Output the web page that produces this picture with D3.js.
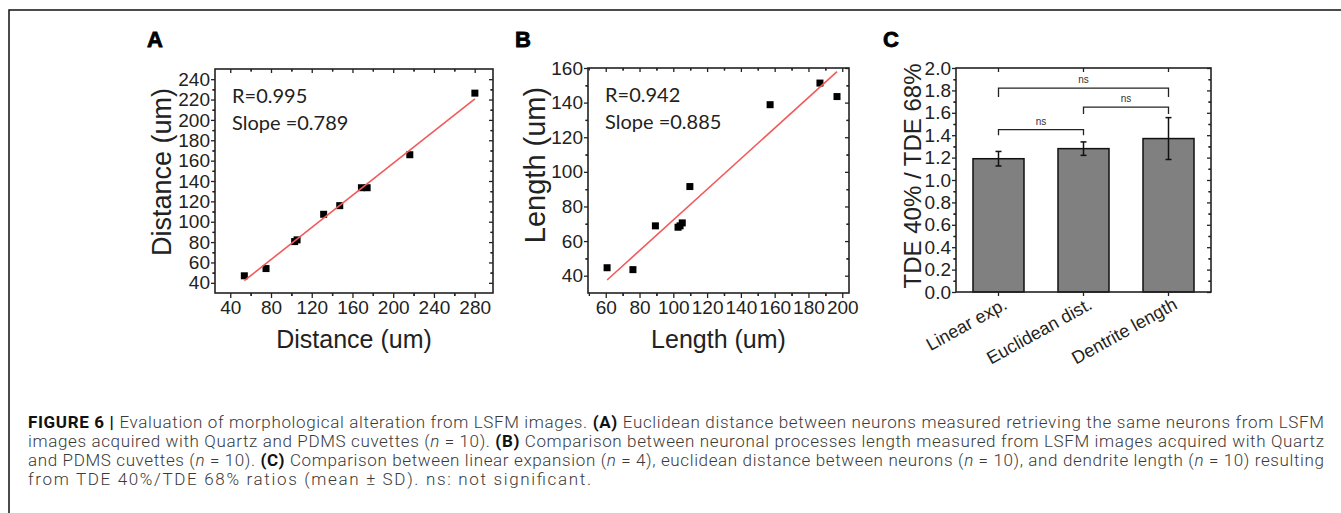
<!DOCTYPE html>
<html>
<head>
<meta charset="utf-8">
<script src="https://cdn.jsdelivr.net/npm/d3@7"></script>
<style>
  body { margin: 0; background: #fff; }
  svg { display: block; }
  .tick text { font-family: "Liberation Sans", Arial, sans-serif; fill: #222; }
</style>
</head>
<body>
<svg width="1341" height="513"></svg>
<script>
// panel A: distances (Quartz vs PDMS)
var distX = [53.8, 75.1, 103.2, 105.6, 131.7, 147.5, 168.8, 174.4, 216.3, 280.2];
var distY = [46.9, 54.0, 80.5, 82.2, 107.3, 115.8, 133.4, 133.4, 165.8, 226.3];
var fitA = { slope: 0.789, intercept: -0.3 };
var statsA = ["R=0.995", "Slope =0.789"];

// panel B: process lengths
var lenX = [60.8, 76.1, 89.4, 102.8, 104.0, 105.3, 109.8, 157.3, 186.8, 196.9];
var lenY = [44.6, 43.5, 68.8, 68.0, 68.8, 70.5, 91.5, 138.8, 151.3, 143.5];
var fitB = { slope: 0.885, intercept: -16.3 };
var statsB = ["R=0.942", "Slope =0.885"];

// panel C: ratio bars
var groups = ["Linear exp.", "Euclidean dist.", "Dentrite length"];
var ratioMean = [1.19, 1.28, 1.37];
var ratioSD = [0.065, 0.06, 0.187];
var brackets = [
  { from: 0, to: 1, top: 1.45, leg: 1.40, label: "ns" },
  { from: 1, to: 2, top: 1.65, leg: 1.59, label: "ns" },
  { from: 0, to: 2, top: 1.82, leg: 1.74, label: "ns" }
];

var ticksAx = [40, 80, 120, 160, 200, 240, 280];
var ticksAy = [40, 60, 80, 100, 120, 140, 160, 180, 200, 220, 240];
var ticksBx = [60, 80, 100, 120, 140, 160, 180, 200];
var ticksBy = [40, 60, 80, 100, 120, 140, 160];
var ticksCy = [0, 0.2, 0.4, 0.6, 0.8, 1.0, 1.2, 1.4, 1.6, 1.8, 2.0];

var captionLines = [
  [["b", "FIGURE 6 | "], ["", "Evaluation of morphological alteration from LSFM images. "], ["b", "(A)"], ["", " Euclidean distance between neurons measured retrieving the same neurons from LSFM"]],
  [["", "images acquired with Quartz and PDMS cuvettes ("], ["i", "n"], ["", " = 10). "], ["b", "(B)"], ["", " Comparison between neuronal processes length measured from LSFM images acquired with Quartz"]],
  [["", "and PDMS cuvettes ("], ["i", "n"], ["", " = 10). "], ["b", "(C)"], ["", " Comparison between linear expansion ("], ["i", "n"], ["", " = 4), euclidean distance between neurons ("], ["i", "n"], ["", " = 10), and dendrite length ("], ["i", "n"], ["", " = 10) resulting"]],
  [["", "from TDE 40%/TDE 68% ratios (mean \u00b1 SD). ns: not significant."]]
];
var captionWidths = [1296, 1296, 1296, 563];

var svg = d3.select("svg");
var font = '"Liberation Sans", Arial, sans-serif';

// figure border
svg.append("path")
  .attr("d", "M9,513 V10 H1341")
  .attr("fill", "none").attr("stroke", "#111").attr("stroke-width", 1.5);

function minors(majors, step) {
  var out = [];
  majors.forEach(function(m) { out.push(m + step); out.push(m - step); });
  return out;
}

function drawFrame(g, x, y, xt, yt, xstep, ystep, labelSize) {
  var x0 = x.range()[0], x1 = x.range()[1], y0 = y.range()[0], y1 = y.range()[1];
  var xMin = minors(xt, xstep).filter(function(v) { return v > x.domain()[0] && v < x.domain()[1]; });
  var yMin = minors(yt, ystep).filter(function(v) { return v > y.domain()[0] && v < y.domain()[1]; });

  g.append("g").attr("transform", "translate(0," + y0 + ")")
    .call(d3.axisBottom(x).tickValues(xt).tickSize(5).tickPadding(3))
    .call(function(a) { a.select(".domain").remove(); a.selectAll("text").style("font-size", labelSize + "px"); });
  g.append("g").attr("transform", "translate(0," + y0 + ")")
    .call(d3.axisBottom(x).tickValues(xMin).tickSize(3).tickFormat(""))
    .call(function(a) { a.select(".domain").remove(); });
  g.append("g").attr("transform", "translate(0," + y1 + ")")
    .call(d3.axisTop(x).tickValues(xt).tickSize(-4).tickFormat(""))
    .call(function(a) { a.select(".domain").remove(); });
  g.append("g").attr("transform", "translate(0," + y1 + ")")
    .call(d3.axisTop(x).tickValues(xMin).tickSize(-2.5).tickFormat(""))
    .call(function(a) { a.select(".domain").remove(); });

  g.append("g").attr("transform", "translate(" + x0 + ",0)")
    .call(d3.axisLeft(y).tickValues(yt).tickSize(4).tickPadding(1))
    .call(function(a) { a.select(".domain").remove(); a.selectAll("text").style("font-size", labelSize + "px"); });
  g.append("g").attr("transform", "translate(" + x0 + ",0)")
    .call(d3.axisLeft(y).tickValues(yMin).tickSize(2.5).tickFormat(""))
    .call(function(a) { a.select(".domain").remove(); });
  g.append("g").attr("transform", "translate(" + x1 + ",0)")
    .call(d3.axisRight(y).tickValues(yt).tickSize(-4).tickFormat(""))
    .call(function(a) { a.select(".domain").remove(); });
  g.append("g").attr("transform", "translate(" + x1 + ",0)")
    .call(d3.axisRight(y).tickValues(yMin).tickSize(-2.5).tickFormat(""))
    .call(function(a) { a.select(".domain").remove(); });

  g.selectAll(".tick line").attr("stroke", "#222").attr("stroke-width", 1.3);
  g.append("rect")
    .attr("x", x0).attr("y", y1).attr("width", x1 - x0).attr("height", y0 - y1)
    .attr("fill", "none").attr("stroke", "#222").attr("stroke-width", 1.6);
}

function scatterPanel(opt) {
  var g = svg.append("g");
  var x = d3.scaleLinear().domain(opt.xDomain).range([opt.left, opt.right]);
  var y = d3.scaleLinear().domain(opt.yDomain).range([opt.bottom, opt.top]);
  drawFrame(g, x, y, opt.xt, opt.yt, opt.xstep, opt.ystep, 19);

  var pts = opt.xs.map(function(v, i) { return [v, opt.ys[i]]; });
  g.append("g").selectAll("rect").data(pts).enter().append("rect")
    .attr("x", function(d) { return x(d[0]) - 3.5; })
    .attr("y", function(d) { return y(d[1]) - 3.5; })
    .attr("width", 7).attr("height", 7)
    .attr("fill", "#000");

  var ext = d3.extent(opt.xs);
  g.append("line")
    .attr("x1", x(ext[0])).attr("y1", y(opt.fit.slope * ext[0] + opt.fit.intercept))
    .attr("x2", x(ext[1])).attr("y2", y(opt.fit.slope * ext[1] + opt.fit.intercept))
    .attr("stroke", "#f25a5a").attr("stroke-width", 1.6);

  g.selectAll(".stat").data(opt.stats).enter().append("text")
    .attr("x", opt.left + 17).attr("y", function(d, i) { return opt.top + 34 + i * 27; })
    .style("font-family", "Lato, 'Open Sans', sans-serif").style("font-size", "20px").style("fill", "#222")
    .text(function(d) { return d; });

  g.append("text")
    .attr("x", (opt.left + opt.right) / 2).attr("y", 348)
    .attr("text-anchor", "middle")
    .style("font-family", font).style("font-size", "25px").style("fill", "#222")
    .text(opt.xTitle);
  g.append("text")
    .attr("transform", "translate(" + opt.yTitleX + "," + opt.yTitleY + ") rotate(-90)")
    .attr("text-anchor", "middle")
    .style("font-family", font).style("font-size", opt.yTitleSize + "px").style("fill", "#222")
    .text(opt.yTitle);
}

scatterPanel({
  xs: distX, ys: distY, fit: fitA, stats: statsA,
  xDomain: [25, 298], yDomain: [30, 250],
  left: 215, right: 493, top: 69, bottom: 293,
  xt: ticksAx, yt: ticksAy, xstep: 20, ystep: 10,
  xTitle: "Distance (um)", yTitle: "Distance (um)",
  yTitleX: 171, yTitleY: 172, yTitleSize: 27
});

scatterPanel({
  xs: lenX, ys: lenY, fit: fitB, stats: statsB,
  xDomain: [49.5, 204], yDomain: [30, 160],
  left: 588, right: 849, top: 68, bottom: 293,
  xt: ticksBx, yt: ticksBy, xstep: 10, ystep: 10,
  xTitle: "Length (um)", yTitle: "Length (um)",
  yTitleX: 545, yTitleY: 165, yTitleSize: 29
});

// panel C: bar chart
(function() {
  var g = svg.append("g");
  var left = 956, right = 1211, top = 68, bottom = 292;
  var x = d3.scaleBand().domain(groups).range([left, right]).paddingInner(0.4).paddingOuter(0.2);
  var y = d3.scaleLinear().domain([0, 2]).range([bottom, top]);
  var cx = function(i) { return x(groups[i]) + x.bandwidth() / 2; };

  g.append("g").selectAll("rect").data(ratioMean).enter().append("rect")
    .attr("x", function(d, i) { return x(groups[i]); })
    .attr("y", function(d) { return y(d); })
    .attr("width", x.bandwidth())
    .attr("height", function(d) { return y(0) - y(d); })
    .attr("fill", "#808080").attr("stroke", "#111").attr("stroke-width", 1.5);

  var eb = g.append("g").attr("stroke", "#111").attr("stroke-width", 1.5);
  ratioMean.forEach(function(m, i) {
    var c = cx(i), hi = y(m + ratioSD[i]), lo = y(m - ratioSD[i]);
    eb.append("line").attr("x1", c).attr("x2", c).attr("y1", hi).attr("y2", lo);
    eb.append("line").attr("x1", c - 3).attr("x2", c + 3).attr("y1", hi).attr("y2", hi);
    eb.append("line").attr("x1", c - 3).attr("x2", c + 3).attr("y1", lo).attr("y2", lo);
  });

  // frame and ticks
  g.append("g").attr("transform", "translate(0," + bottom + ")")
    .call(d3.axisBottom(x).tickSize(4).tickFormat(""))
    .call(function(a) { a.select(".domain").remove(); });
  g.append("g").attr("transform", "translate(0," + top + ")")
    .call(d3.axisTop(x).tickSize(-4).tickFormat(""))
    .call(function(a) { a.select(".domain").remove(); });
  var yMin = minors(ticksCy, 0.1).filter(function(v) { return v > 0 && v < 2; });
  g.append("g").attr("transform", "translate(" + left + ",0)")
    .call(d3.axisLeft(y).tickValues(ticksCy).tickSize(4).tickPadding(1).tickFormat(d3.format(".1f")))
    .call(function(a) { a.select(".domain").remove(); a.selectAll("text").style("font-size", "19px"); });
  g.append("g").attr("transform", "translate(" + left + ",0)")
    .call(d3.axisLeft(y).tickValues(yMin).tickSize(2.5).tickFormat(""))
    .call(function(a) { a.select(".domain").remove(); });
  g.append("g").attr("transform", "translate(" + right + ",0)")
    .call(d3.axisRight(y).tickValues(ticksCy).tickSize(-4).tickFormat(""))
    .call(function(a) { a.select(".domain").remove(); });
  g.append("g").attr("transform", "translate(" + right + ",0)")
    .call(d3.axisRight(y).tickValues(yMin).tickSize(-2.5).tickFormat(""))
    .call(function(a) { a.select(".domain").remove(); });
  g.selectAll(".tick line").attr("stroke", "#222").attr("stroke-width", 1.3);
  g.append("rect")
    .attr("x", left).attr("y", top).attr("width", right - left).attr("height", bottom - top)
    .attr("fill", "none").attr("stroke", "#222").attr("stroke-width", 1.6);

  // significance brackets
  var br = g.append("g");
  brackets.forEach(function(b) {
    var xa = cx(b.from), xb = cx(b.to);
    br.append("path")
      .attr("d", "M" + xa + "," + y(b.leg) + "V" + y(b.top) + "H" + xb + "V" + y(b.leg))
      .attr("fill", "none").attr("stroke", "#222").attr("stroke-width", 1.3);
    br.append("text")
      .attr("x", (xa + xb) / 2).attr("y", y(b.top) - 5)
      .attr("text-anchor", "middle")
      .style("font-family", font).style("font-size", "10px").style("fill", "#333")
      .text(b.label);
  });

  // category labels
  g.selectAll(".cat").data(groups).enter().append("text")
    .attr("transform", function(d, i) { return "translate(" + (cx(i) + 10) + "," + (bottom + 16) + ") rotate(-29)"; })
    .attr("text-anchor", "end")
    .style("font-family", font).style("font-size", "18px").style("fill", "#222")
    .text(function(d) { return d; });

  g.append("text")
    .attr("transform", "translate(921,176) rotate(-90)")
    .attr("text-anchor", "middle")
    .style("font-family", font).style("font-size", "24px").style("fill", "#222")
    .text("TDE 40% / TDE 68%");
})();

// panel letters
[["A", 147], ["B", 515], ["C", 883]].forEach(function(p) {
  svg.append("text")
    .attr("x", p[1]).attr("y", 47)
    .style("font-family", font).style("font-size", "22px").style("font-weight", "bold")
    .attr("stroke", "#000").attr("stroke-width", 0.8)
    .text(p[0]);
});

// caption
var cap = svg.append("g");
captionLines.forEach(function(line, i) {
  var t = cap.append("text")
    .attr("x", 28).attr("y", 428 + i * 19)
    .attr("textLength", captionWidths[i]).attr("lengthAdjust", "spacing")
    .style("font-family", "Roboto, 'Liberation Sans', sans-serif")
    .style("font-size", "17px").style("font-weight", 300).style("fill", "#3a3a3a");
  line.forEach(function(seg) {
    var s = t.append("tspan").text(seg[1]);
    if (seg[0] === "b") s.style("font-weight", "bold").style("fill", "#111");
    if (seg[0] === "i") s.style("font-style", "italic");
  });
});
</script>
</body>
</html>
